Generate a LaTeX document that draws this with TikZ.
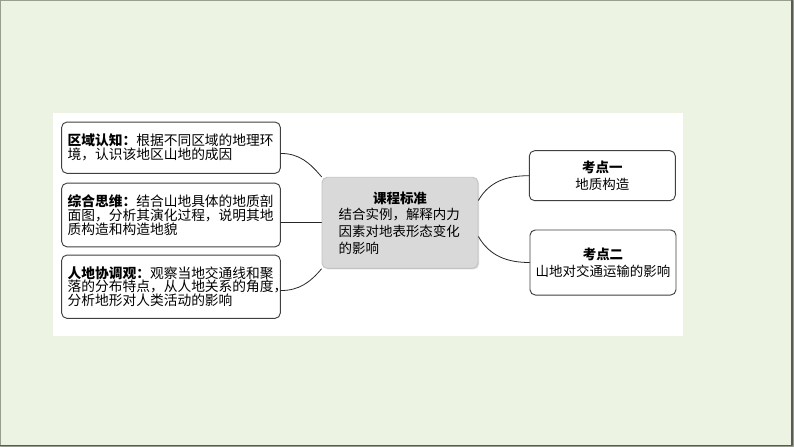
\documentclass[tikz,border=0pt]{standalone}
\usepackage{fontspec}
\setmainfont{Noto Sans CJK SC}
\usetikzlibrary{shadows}
\definecolor{slidebg}{RGB}{236,243,227}
\definecolor{slideedge}{RGB}{150,158,140}
\definecolor{boxedge}{RGB}{64,64,64}
\definecolor{hubfill}{RGB}{217,217,217}
\definecolor{hubedge}{RGB}{195,195,195}

\begin{document}
\begin{tikzpicture}[line cap=round,line join=round,x=0.75pt,y=-0.75pt,
  topic/.style={draw=boxedge,line width=0.7pt,rounded corners=4pt,fill=white,
    inner xsep=4.5pt,inner ysep=2pt,text width=155pt,align=left,
    font=\fontsize{10.3pt}{10.3pt}\selectfont},
  hub/.style={draw=hubedge,line width=0.7pt,rounded corners=4pt,fill=hubfill,
    drop shadow={shadow xshift=0.8pt,shadow yshift=-0.8pt,fill=black!25},
    inner xsep=12.5pt,inner ysep=2pt,text width=92pt,align=left,
    minimum height=68.3pt,font=\fontsize{10.1pt}{12.5pt}\selectfont},
  point/.style={draw=boxedge,line width=0.7pt,rounded corners=4pt,fill=white,
    inner sep=2pt,align=center,minimum width=109.5pt,
    font=\fontsize{10.1pt}{13pt}\selectfont},
  link/.style={draw=black!85,line width=0.6pt}]
\useasboundingbox (0,0) rectangle (794,447);
\draw [fill=slidebg,draw=slideedge,line width=1pt] (0.5,0.5) rectangle (793.5,446.5);
\draw [draw=black!65,line width=1pt] (792,0.5) -- (792,445.5) -- (0.5,445.5);
\fill [white] (53,113) rectangle (683,336);

\node [topic,minimum height=38.5pt] (quyu) at (171,147.7)
  {\textbf{区域认知：}根据不同区域的地理环\\境，认识该地区山地的成因};
\node [topic,minimum height=47.8pt] (zonghe) at (171,215)
  {\textbf{综合思维：}结合山地具体的地质剖\\面图，分析其演化过程，说明其地\\质构造和构造地貌};
\node [topic,minimum height=47.5pt] (rendi) at (171,286.7)
  {\textbf{人地协调观：}观察当地交通线和聚\\落的分布特点，从人地关系的角度，\\分析地形对人类活动的影响};

\node [hub] (kecheng) at (400,222.8)
  {\makebox[92pt]{\textbf{课程标准}}\\结合实例，解释内力\\因素对地表形态变化\\的影响};

\node [point,minimum height=37.5pt] (kaodian1) at (602.3,175.7)
  {\textbf{考点一}\\地质构造};
\node [point,minimum height=48.8pt] (kaodian2) at (603,262.5)
  {\textbf{考点二}\\山地对交通运输的影响};

\draw [link] (quyu.-3) to[out=0,in=130] (kecheng.north west);
\draw [link] (kecheng.west -| zonghe.east) -- (kecheng.west);
\draw [link] (rendi.-2) to[out=0,in=-130] (kecheng.south west);
\draw [link] (kecheng.16) to[out=60,in=180] (kaodian1.west);
\draw [link] (kecheng.-10) to[out=-60,in=180] (kaodian2.west);
\end{tikzpicture}
\end{document}
